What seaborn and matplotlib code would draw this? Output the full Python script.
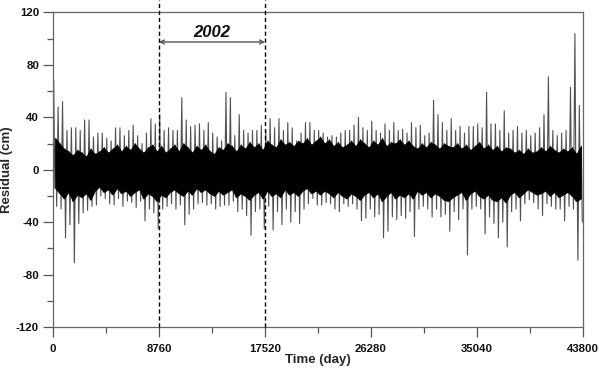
import numpy as np
import pandas as pd
import matplotlib
matplotlib.use("Agg")
import matplotlib.pyplot as plt
import seaborn as sns

# =========================================================
# DATA
# =========================================================
# extremes per 365-day bin (cm), 120 bins over 43800 days
bin_days = 365
spike_hi = [68, 48, 52, 30, 32, 32, 30, 38, 38, 25,
            28, 28, 24, 22, 32, 32, 26, 30, 34, 26,
            20, 28, 39, 35, 42, 30, 32, 30, 30, 55,
            38, 33, 34, 35, 30, 36, 28, 25, 22, 59,
            55, 26, 42, 30, 28, 30, 30, 34, 30, 39,
            32, 39, 30, 36, 32, 22, 28, 36, 36, 30,
            30, 28, 25, 26, 25, 28, 30, 30, 34, 40,
            32, 30, 37, 30, 28, 35, 30, 36, 30, 31,
            28, 36, 32, 34, 26, 28, 53, 42, 36, 30,
            39, 30, 33, 28, 33, 33, 35, 32, 59, 35,
            35, 30, 45, 28, 30, 33, 28, 30, 26, 28,
            32, 42, 71, 30, 26, 28, 30, 63, 104, 49]
spike_lo = [-28, -30, -52, -42, -71, -41, -33, -31, -28, -27,
            -20, -22, -26, -27, -22, -28, -24, -25, -29, -24,
            -39, -30, -33, -45, -30, -28, -26, -30, -27, -42,
            -34, -30, -26, -25, -27, -26, -30, -28, -27, -27,
            -24, -32, -30, -35, -50, -32, -30, -45, -28, -46,
            -32, -42, -30, -40, -32, -41, -30, -26, -22, -27,
            -27, -25, -26, -30, -32, -26, -28, -26, -30, -39,
            -37, -30, -36, -34, -52, -47, -36, -38, -35, -37,
            -32, -51, -30, -28, -30, -36, -30, -36, -34, -47,
            -32, -38, -30, -65, -30, -28, -30, -49, -36, -41,
            -52, -40, -59, -32, -30, -39, -26, -23, -25, -30,
            -35, -26, -28, -30, -30, -39, -28, -30, -69, -40]

# edges of the dense black band per 365-day bin (cm)
band_hi = [24, 20, 16, 14, 11, 15, 13, 10, 16, 12,
           14, 17, 13, 16, 19, 14, 18, 15, 20, 16,
           13, 17, 19, 14, 18, 13, 16, 19, 14, 20,
           17, 13, 18, 15, 19, 14, 12, 17, 15, 20,
           18, 14, 19, 16, 21, 17, 20, 15, 22, 19,
           17, 23, 19, 21, 18, 22, 20, 24, 19, 22,
           25, 20, 23, 18, 21, 17, 19, 22, 18, 23,
           20, 17, 22, 19, 24, 18, 21, 20, 23, 19,
           22, 18, 16, 20, 17, 21, 19, 16, 20, 18,
           17, 20, 16, 19, 15, 18, 21, 16, 19, 15,
           18, 14, 17, 16, 13, 15, 12, 16, 13, 14,
           17, 14, 18, 15, 13, 16, 14, 17, 12, 18]
band_lo = [-14, -18, -22, -17, -24, -19, -21, -18, -23, -16,
           -13, -17, -15, -19, -14, -18, -16, -20, -17, -15,
           -22, -18, -20, -24, -19, -21, -17, -15, -18, -20,
           -16, -19, -14, -17, -15, -18, -20, -16, -19, -17,
           -15, -21, -18, -20, -23, -19, -17, -22, -16, -20,
           -18, -21, -15, -19, -17, -20, -16, -14, -18, -16,
           -19, -16, -18, -21, -17, -20, -22, -18, -20, -23,
           -19, -17, -21, -18, -24, -20, -17, -22, -19, -21,
           -18, -22, -16, -19, -17, -21, -18, -20, -23, -24,
           -21, -19, -17, -23, -18, -16, -20, -22, -19, -23,
           -24, -21, -25, -19, -17, -21, -18, -15, -17, -19,
           -18, -16, -20, -17, -21, -19, -17, -20, -24, -22]

xticks = [0, 8760, 17520, 26280, 35040, 43800]
yticks = [-120, -80, -40, 0, 40, 80, 120]
period_start, period_end = 8760, 17520
period_label = "2002"

# =========================================================
# BUILD SERIES
# =========================================================
idx = np.arange(len(spike_hi)) * bin_days
days = np.column_stack([idx + 60, idx + 150, idx + 230, idx + 305]).ravel()
resid = np.column_stack([spike_hi, band_lo, band_hi, spike_lo]).ravel()
df = pd.DataFrame({"day": days, "residual": resid})

band_days = idx + bin_days / 2

# =========================================================
# STYLE
# =========================================================
sns.set_theme(style="ticks")
plt.rcParams["font.family"] = ["Liberation Sans", "DejaVu Sans"]
plt.rcParams["axes.unicode_minus"] = False

fig = plt.figure(figsize=(6, 3.74), dpi=100)
ax = fig.add_axes([0.0883, 0.1257, 0.8834, 0.8409])

sns.lineplot(data=df, x="day", y="residual", sort=False, estimator=None,
             color="#505050", lw=0.8, ax=ax, zorder=2)
ax.fill_between(band_days, band_lo, band_hi, color="black", lw=0.5,
                edgecolor="black", zorder=3)

# =========================================================
# PERIOD MARKERS
# =========================================================
for d in (period_start, period_end):
    ax.axvline(d, ymin=0, ymax=1.04, color="black", lw=1.0,
               ls=(0, (3, 2)), clip_on=False, zorder=4)

ax.annotate("", xy=(period_start, 97.5), xytext=(period_end, 97.5),
            arrowprops=dict(arrowstyle="<->", color="#555555", lw=1.0,
                            shrinkA=0, shrinkB=0, mutation_scale=7))
ax.text((period_start + period_end) / 2, 105, period_label,
        ha="center", va="center", fontsize=12, fontweight="bold",
        fontstyle="italic", color="#111111")

# =========================================================
# AXES
# =========================================================
ax.set_xlim(0, 43800)
ax.set_ylim(-120, 120)
ax.set_xticks(xticks)
ax.set_xticks([4380, 13140, 21900, 30660, 39420], minor=True)
ax.set_yticks(yticks)
ax.set_yticks([-100, -60, -20, 20, 60, 100], minor=True)

ax.tick_params(which="major", length=7, width=0.9, color="#555555",
               labelsize=8.2, labelcolor="#111111")
ax.tick_params(axis="y", which="major", pad=3)
ax.tick_params(axis="x", which="major", pad=5.5)
ax.tick_params(which="minor", length=4, width=0.9, color="#555555")
for lab in ax.get_xticklabels() + ax.get_yticklabels():
    lab.set_fontweight("bold")

for side in ["top", "right", "left", "bottom"]:
    ax.spines[side].set_visible(True)
    ax.spines[side].set_color("#666666")
    ax.spines[side].set_linewidth(0.9)

ax.set_xlabel("Time (day)", fontsize=9.5, fontweight="bold", labelpad=0)
ax.set_ylabel("Residual (cm)", fontsize=9.5, fontweight="bold", labelpad=2)

fig.savefig("out.png", dpi=100, facecolor="white")
